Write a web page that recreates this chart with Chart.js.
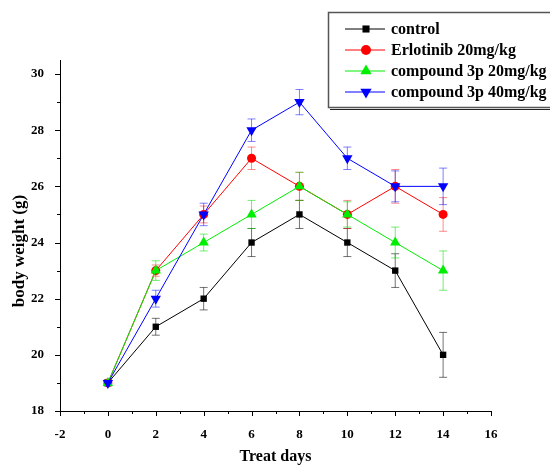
<!DOCTYPE html>
<html>
<head>
<meta charset="utf-8">
<script src="https://cdn.jsdelivr.net/npm/chart.js@4"></script>
<style>
  html, body { margin: 0; padding: 0; background: #fff; }
  #wrap { width: 550px; height: 466px; }
</style>
</head>
<body>
<div id="wrap"><canvas id="chart" width="550" height="466"></canvas></div>
<script>
const DAYS = [0, 2, 4, 6, 8, 10, 12, 14];

const CONTROL = [19, 21, 22, 24, 25, 24, 23, 20];
const CONTROL_ERR = [0.1, 0.3, 0.4, 0.5, 0.5, 0.5, 0.6, 0.8];

const ERLOTINIB = [19, 23, 25, 27, 26, 25, 26, 25];
const ERLOTINIB_ERR = [0.1, 0.2, 0.3, 0.4, 0.5, 0.5, 0.6, 0.6];

const C3P_20 = [19, 23, 24, 25, 26, 25, 24, 23];
const C3P_20_ERR = [0.1, 0.35, 0.3, 0.5, 0.5, 0.45, 0.55, 0.7];

const C3P_40 = [19, 22, 25, 28, 29, 27, 26, 26];
const C3P_40_ERR = [0.1, 0.3, 0.4, 0.4, 0.45, 0.4, 0.55, 0.65];

const LABELS = ['control', 'Erlotinib 20mg/kg', 'compound 3p 20mg/kg', 'compound 3p 40mg/kg'];
const TITULO_X = 'Treat days';
const TITULO_Y = 'body weight (g)';

// marcas: pares com rótulo, ímpares só traço menor
const X_TICKS = [-2, -1, 0, 1, 2, 3, 4, 5, 6, 7, 8, 9, 10, 11, 12, 13, 14, 15, 16];
const Y_TICKS = [18, 19, 20, 21, 22, 23, 24, 25, 26, 27, 28, 29, 30];

const FONTE = "'Liberation Serif', 'DejaVu Serif', serif";

function pontos(valores) {
    return DAYS.map((d, i) => ({ x: d, y: valores[i] }));
}

const series = [
    { label: LABELS[0], valores: CONTROL, erros: CONTROL_ERR, cor: '#000000', corErro: 'rgba(0,0,0,0.55)', estilo: 'rect', raio: 4.5, rot: 0 },
    { label: LABELS[1], valores: ERLOTINIB, erros: ERLOTINIB_ERR, cor: '#ff0000', corErro: 'rgba(255,0,0,0.45)', estilo: 'circle', raio: 4.5, rot: 0 },
    { label: LABELS[2], valores: C3P_20, erros: C3P_20_ERR, cor: '#00ee00', corErro: 'rgba(0,220,0,0.55)', estilo: 'triangle', raio: 6, rot: 0 },
    { label: LABELS[3], valores: C3P_40, erros: C3P_40_ERR, cor: '#0000ff', corErro: 'rgba(0,0,255,0.5)', estilo: 'triangle', raio: 6, rot: 180 },
];

// barras de erro desenhadas antes dos marcadores
const barrasErro = {
    id: 'barrasErro',
    beforeDatasetsDraw(chart) {
        const { ctx, scales: { x, y } } = chart;
        ctx.save();
        ctx.lineWidth = 1;
        series.forEach((s) => {
            ctx.strokeStyle = s.corErro;
            s.valores.forEach((v, i) => {
                const px = x.getPixelForValue(DAYS[i]);
                const topo = y.getPixelForValue(v + s.erros[i]);
                const base = y.getPixelForValue(v - s.erros[i]);
                ctx.beginPath();
                ctx.moveTo(px, topo);
                ctx.lineTo(px, base);
                ctx.moveTo(px - 4, topo);
                ctx.lineTo(px + 4, topo);
                ctx.moveTo(px - 4, base);
                ctx.lineTo(px + 4, base);
                ctx.stroke();
            });
        });
        ctx.restore();
    },
};

// marcas dos eixos (maiores nos pares, menores nos ímpares) e título do eixo y
const marcasEixo = {
    id: 'marcasEixo',
    afterDraw(chart) {
        const { ctx, scales: { x, y } } = chart;
        ctx.save();
        ctx.strokeStyle = '#000';
        ctx.lineWidth = 1;
        x.ticks.forEach((t) => {
            const px = Math.round(x.getPixelForValue(t.value)) + 0.5;
            const tam = t.value % 2 === 0 ? 5 : 3;
            ctx.beginPath();
            ctx.moveTo(px, x.top);
            ctx.lineTo(px, x.top + tam);
            ctx.stroke();
        });
        y.ticks.forEach((t) => {
            const py = Math.round(y.getPixelForValue(t.value)) + 0.5;
            const tam = t.value % 2 === 0 ? 5 : 3;
            ctx.beginPath();
            ctx.moveTo(y.right, py);
            ctx.lineTo(y.right - tam, py);
            ctx.stroke();
        });

        ctx.translate(20, 251);
        ctx.rotate(-Math.PI / 2);
        ctx.font = `bold 17px ${FONTE}`;
        ctx.fillStyle = '#000';
        ctx.textAlign = 'center';
        ctx.textBaseline = 'middle';
        ctx.fillText(TITULO_Y, 0, 0);
        ctx.restore();
    },
};

// legenda em caixa no canto superior direito
const legendaCaixa = {
    id: 'legendaCaixa',
    afterDraw(chart) {
        const ctx = chart.ctx;
        ctx.save();
        ctx.strokeStyle = '#555';
        ctx.lineWidth = 1.5;
        ctx.strokeRect(328.5, 12.5, 240, 95);
        ctx.strokeStyle = '#222';
        ctx.lineWidth = 1;
        ctx.beginPath();
        ctx.moveTo(330, 109.5);
        ctx.lineTo(550, 109.5);
        ctx.stroke();
        ctx.font = `bold 16px ${FONTE}`;
        ctx.textBaseline = 'middle';
        series.forEach((s, i) => {
            const yy = 29 + i * 21;
            ctx.strokeStyle = s.cor;
            ctx.lineWidth = 1;
            ctx.beginPath();
            ctx.moveTo(345, yy);
            ctx.lineTo(385, yy);
            ctx.stroke();
            ctx.fillStyle = s.cor;
            Chart.helpers.drawPoint(ctx, { pointStyle: s.estilo, radius: s.raio + 0.5, rotation: s.rot, borderWidth: 0 }, 366, yy);
            ctx.fillStyle = '#000';
            ctx.fillText(s.label, 391, yy + 1);
        });
        ctx.restore();
    },
};

new Chart(document.getElementById('chart'), {
    type: 'line',
    data: {
        datasets: series.map((s, i) => ({
            label: s.label,
            data: pontos(s.valores),
            order: series.length - i,
            borderColor: s.cor,
            backgroundColor: s.cor,
            borderWidth: 1,
            pointStyle: s.estilo,
            pointRadius: s.raio,
            pointRotation: s.rot,
            pointBorderWidth: 0,
            pointHoverRadius: s.raio,
            tension: 0,
            fill: false,
        })),
    },
    options: {
        responsive: false,
        animation: false,
        layout: { padding: { left: 4, right: 59, top: 60, bottom: 0 } },
        plugins: { legend: { display: false }, tooltip: { enabled: false } },
        scales: {
            x: {
                type: 'linear',
                min: -2,
                max: 16,
                grid: { display: false },
                border: { display: true, color: '#000', width: 1 },
                afterBuildTicks(scale) { scale.ticks = X_TICKS.map((v) => ({ value: v })); },
                ticks: {
                    padding: 8,
                    color: '#000',
                    maxRotation: 0,
                    autoSkip: false,
                    font: { family: FONTE, size: 13, weight: 'bold' },
                    callback: (v) => (v % 2 === 0 ? v : ''),
                },
                title: {
                    display: true,
                    text: TITULO_X,
                    color: '#000',
                    font: { family: FONTE, size: 16, weight: 'bold' },
                    padding: { top: 5, bottom: 0 },
                },
                afterFit(scale) { scale.height = 55; },
            },
            y: {
                min: 18,
                max: 30.5,
                grid: { display: false },
                border: { display: true, color: '#000', width: 1 },
                afterBuildTicks(scale) { scale.ticks = Y_TICKS.map((v) => ({ value: v })); },
                ticks: {
                    padding: 8,
                    color: '#000',
                    autoSkip: false,
                    font: { family: FONTE, size: 13, weight: 'bold' },
                    callback: (v) => (v % 2 === 0 ? v : ''),
                },
                title: { display: false },
                afterFit(scale) { scale.width = 56; },
            },
        },
    },
    plugins: [barrasErro, marcasEixo, legendaCaixa],
});
</script>
</body>
</html>
